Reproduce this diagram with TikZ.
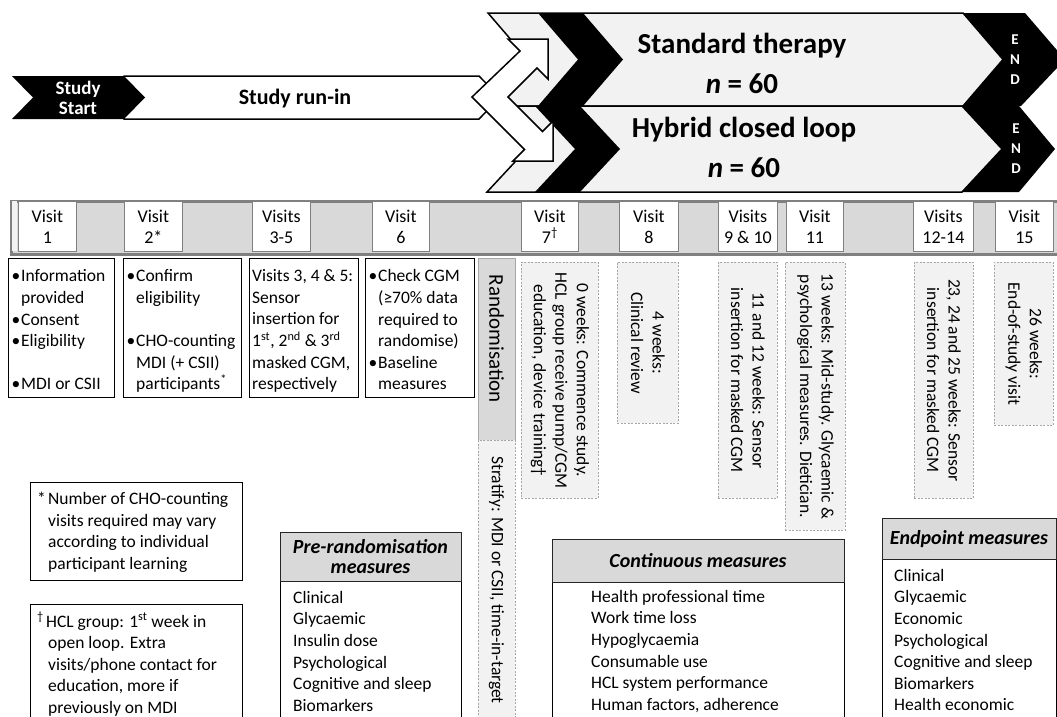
\documentclass[tikz,border=0pt]{standalone}
\usepackage{fontspec}
\setmainfont{Carlito}
\definecolor{armgray}{HTML}{F2F2F2}
\definecolor{cellgray}{HTML}{D9D9D9}
\definecolor{bordgray}{HTML}{808080}
\definecolor{dashgray}{HTML}{A6A6A6}
\newcommand{\fsz}[2]{\fontsize{#1}{#2}\selectfont}
\newcommand{\bl}{\makebox[9.5pt][l]{•}}
\newcommand{\ind}{\hspace*{9.5pt}}
\begin{document}
\begin{tikzpicture}[x=1pt,y=-1pt,
  armchev/.style={fill=armgray,draw=black,line width=1.5pt},
  cellw/.style={fill=white,draw=bordgray,line width=0.8pt,anchor=north west,inner sep=0pt,
    align=center,font=\fsz{18}{21}},
  solidbox/.style={fill=white,draw=black,line width=1.1pt,anchor=north west,inner sep=0pt},
  dashbox/.style={fill=armgray,draw=dashgray,dash pattern=on 2pt off 1.5pt,line width=0.8pt,
    anchor=north west,inner sep=0pt},
  rottxt/.style={rotate=-90,font=\fsz{17.5}{21.5},align=center,inner sep=0pt},
  boxtxt/.style={font=\fsz{17.5}{21.6},align=left,anchor=north west,inner sep=0pt},
  hdr/.style={fill=cellgray,draw=black!85,line width=1.3pt,anchor=north west,inner sep=0pt},
  hdrtxt/.style={font=\fsz{20}{20.5}\bfseries\itshape,align=center,inner sep=0pt},
  endtxt/.style={font=\fsz{15}{20}\bfseries,text=white,align=center,inner sep=0pt},
  armtxt/.style={font=\fsz{29}{30}\bfseries,inner sep=0pt}]
\useasboundingbox (0,0) rectangle (1057,716);
\clip (0,0) rectangle (1057,716);

% ---- treatment arms
\path[armchev] (488,13) -- (963,13) -- (1003,59.5) -- (963,106) -- (488,106) -- (528,59.5) -- cycle;
\path[armchev] (487,106) -- (962,106) -- (1002,149) -- (962,192) -- (487,192) -- (527,149) -- cycle;
\fill (538,13) -- (583,13) -- (623,59.5) -- (583,106) -- (538,106) -- (578,59.5) -- cycle;
\fill (535,106) -- (580,106) -- (620,149) -- (580,192) -- (535,192) -- (575,149) -- cycle;
\fill (963,13) -- (1025,13) -- (1065,59.5) -- (1021,106) -- (963,106) -- (1003,59.5) -- cycle;
\fill (962,106) -- (1019,106) -- (1055,149) -- (1019,192) -- (962,192) -- (1002,149) -- cycle;

% ---- run-in and start
\draw[fill=white,line width=1.5pt] (124,76) -- (479,76) -- (500,97.5) -- (479,119) -- (124,119) -- cycle;
\fill (12,76) -- (124,76) -- (145,97.5) -- (124,119) -- (12,119) -- (33,97.5) -- cycle;

% ---- split arrow
\draw[fill=white,line width=1.5pt,line join=miter]
  (472,97) -- (520,51) -- (508,39) -- (548,39) -- (548,79) -- (537,68) -- (508,97)
  -- (542.5,131.5) -- (553,121) -- (553,161) -- (513,161) -- (524.5,149.5) -- cycle;

\node[font=\fsz{19}{20}\bfseries,text=white,align=center,inner sep=0pt] (ss) at (78,98) {Study\\Start};
\node[font=\fsz{22}{22}\bfseries,inner sep=0pt] (runin) at (295,99) {Study run-in};
\node[armtxt] (st) at (742,46) {Standard therapy};
\node[armtxt] (stn) at (742,84) {\textit{n} = 60};
\node[armtxt] (hcl) at (744,130) {Hybrid closed loop};
\node[armtxt] (hcln) at (744,168) {\textit{n} = 60};
\node[endtxt] (end1) at (1015,60) {E\\N\\D};
\node[endtxt] (end2) at (1016,149) {E\\N\\D};

% ---- visit bar
\node[fill=cellgray,draw=bordgray,line width=3pt,minimum width=1070,minimum height=53,
  anchor=north west,inner sep=0pt] (bar) at (9.5,199.5) {};
\node[fill=armgray,anchor=north west,minimum width=5,minimum height=50,inner sep=0pt] (strip) at (12,201) {};
\node[cellw,minimum width=58,minimum height=50] (v1) at (18,201) {Visit\\1};
\node[cellw,minimum width=58,minimum height=50] (v2) at (124,201) {Visit\\2*};
\node[cellw,minimum width=58,minimum height=50] (v3) at (252,201) {Visits\\3-5};
\node[cellw,minimum width=57,minimum height=50] (v6) at (372,201) {Visit\\6};
\node[cellw,minimum width=57,minimum height=50] (v7) at (521,201) {Visit\\7\textsuperscript{†}};
\node[cellw,minimum width=59,minimum height=50] (v8) at (619,201) {Visit\\8};
\node[cellw,minimum width=59,minimum height=50] (v9) at (718,201) {Visits\\9 \& 10};
\node[cellw,minimum width=57,minimum height=50] (v11) at (786,201) {Visit\\11};
\node[cellw,minimum width=60,minimum height=50] (v12) at (913,201) {Visits\\12-14};
\node[cellw,minimum width=58,minimum height=50] (v15) at (995,201) {Visit\\15};

% ---- run-in visit boxes
\node[solidbox,minimum width=106,minimum height=139] (b1) at (8,258) {};
\node[solidbox,minimum width=118,minimum height=139] (b2) at (123,258) {};
\node[solidbox,minimum width=109,minimum height=139] (b3) at (249,258) {};
\node[solidbox,minimum width=109,minimum height=139] (b4) at (365,258) {};
\node[boxtxt] (t1) at (11.5,269.5) {\bl Information\\\ind provided\\\bl Consent\\\bl Eligibility\\\mbox{}\\\bl MDI or CSII};
\node[boxtxt] (t2) at (126.5,269.5) {\bl Confirm\\\ind eligibility\\\mbox{}\\\bl CHO-counting\\\ind MDI (+ CSII)\\\ind participants\textsuperscript{*}};
\node[boxtxt] (t3) at (252,269.5) {Visits 3, 4 \& 5:\\Sensor\\insertion for\\1\textsuperscript{st}, 2\textsuperscript{nd} \& 3\textsuperscript{rd}\\masked CGM,\\respectively};
\node[boxtxt] (t4) at (368.5,269.5) {\bl Check CGM\\\ind (≥70\% data\\\ind required to\\\ind randomise)\\\bl Baseline\\\ind measures};

% ---- randomisation strip
\node[fill=cellgray,draw=dashgray,line width=0.8pt,anchor=north west,inner sep=0pt,
  minimum width=37,minimum height=182] (randbox) at (478,258) {};
\node[dashbox,minimum width=37,minimum height=290] (stratbox) at (478,440) {};
\node[rottxt,font=\fsz{21}{22}] (rand) at (496.5,339) {Randomisation};
\node[rottxt] (strat) at (496.5,580) {Stratify: MDI or CSII, time-in-target};

% ---- post-randomisation visit boxes
\node[dashbox,minimum width=77,minimum height=236] (d7) at (521,262) {};
\node[dashbox,minimum width=61,minimum height=161] (d8) at (617,262) {};
\node[dashbox,minimum width=59,minimum height=236] (d9) at (718,262) {};
\node[dashbox,minimum width=60,minimum height=268] (d11) at (785,262) {};
\node[dashbox,minimum width=59,minimum height=236] (d12) at (914,262) {};
\node[dashbox,minimum width=59,minimum height=163] (d15) at (994,262) {};
\node[rottxt] (r7) at (d7.center) {0 weeks: Commence study.\\HCL group receive pump/CGM\\education, device training†};
\node[rottxt] (r8) at (d8.center) {4 weeks:\\Clinical review};
\node[rottxt] (r9) at (d9.center) {11 and 12 weeks: Sensor\\insertion for masked CGM};
\node[rottxt] (r11) at (d11.center) {13 weeks: Mid-study. Glycaemic \&\\psychological measures. Dietician.};
\node[rottxt] (r12) at (d12.center) {23, 24 and 25 weeks: Sensor\\insertion for masked CGM};
\node[rottxt] (r15) at (d15.center) {26 weeks:\\End-of-study visit};

% ---- footnotes
\node[solidbox,minimum width=212,minimum height=98] (fn1) at (30,482) {};
\node[solidbox,minimum width=212,minimum height=130] (fn2) at (30,604) {};
\node[boxtxt] (fn1t) at (37,492) {\makebox[11pt][l]{*}Number of CHO-counting\\\hspace*{11pt}visits required may vary\\\hspace*{11pt}according to individual\\\hspace*{11pt}participant learning};
\node[boxtxt] (fn2t) at (37,612) {\makebox[9pt][l]{\textsuperscript{†}}HCL group: 1\textsuperscript{st} week in\\\hspace*{11pt}open loop. Extra\\\hspace*{11pt}visits/phone contact for\\\hspace*{11pt}education, more if\\\hspace*{11pt}previously on MDI};

% ---- measures boxes
\node[solidbox,minimum width=181,minimum height=160] (prb) at (280,581) {};
\node[hdr,minimum width=181,minimum height=49] (prh) at (280,532) {};
\node[hdrtxt] (prht) at (370.5,556.5) {Pre-randomisation\\measures};
\node[boxtxt] (prt) at (293,591) {Clinical\\Glycaemic\\Insulin dose\\Psychological\\Cognitive and sleep\\Biomarkers};

\node[solidbox,minimum width=292,minimum height=160] (cob) at (552,582) {};
\node[hdr,minimum width=292,minimum height=43] (coh) at (552,539) {};
\node[hdrtxt] (coht) at (698,561) {Continuous measures};
\node[boxtxt] (cot) at (591,590) {Health professional time\\Work time loss\\Hypoglycaemia\\Consumable use\\HCL system performance\\Human factors, adherence};

\node[solidbox,minimum width=174,minimum height=180] (enb) at (882,559) {};
\node[hdr,minimum width=174,minimum height=41] (enh) at (882,518) {};
\node[hdrtxt] (enht) at (969,539) {Endpoint measures};
\node[boxtxt] (ent) at (894,569) {Clinical\\Glycaemic\\Economic\\Psychological\\Cognitive and sleep\\Biomarkers\\Health economic};
\end{tikzpicture}
\end{document}
